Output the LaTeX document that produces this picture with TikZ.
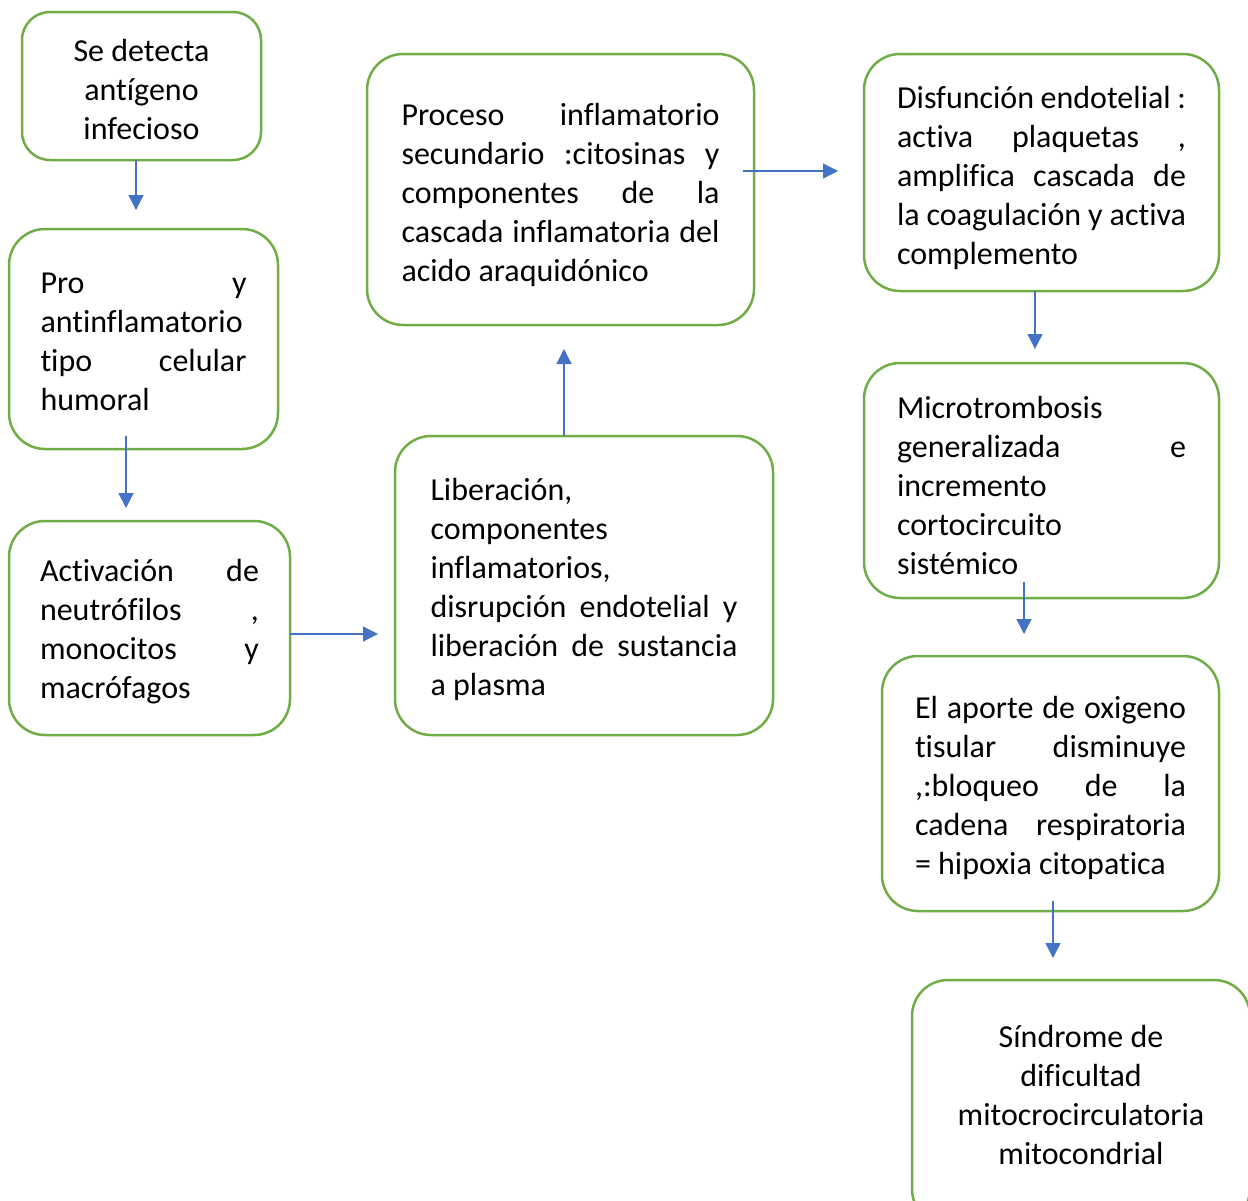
\documentclass[tikz,border=0pt]{standalone}
\usepackage{fontspec}
\setmainfont{Carlito}[Ligatures=NoCommon]
\usetikzlibrary{arrows.meta}
\definecolor{boxgreen}{HTML}{70AD47}
\definecolor{arrblue}{HTML}{4472C4}
\newcommand{\J}[2]{{\spaceskip=0pt\xspaceskip=0pt\makebox[#1][s]{#2}}}
\tikzset{
  flowbox/.style={draw=boxgreen, line width=2.5pt, rounded corners=36pt, inner sep=0pt},
  flowtext/.style={inner sep=0pt, font={\fontsize{32}{39}\selectfont}, align=flush left, text=black},
  flowarrow/.style={draw=arrblue, line width=1.3pt, -{Triangle[length=15pt,width=15pt]}}
}
\begin{document}
\begin{tikzpicture}[x=1pt,y=-1pt]
\clip (0,0) rectangle (1248,1200);
\fill[white] (0,0) rectangle (1248,1200);

% boxes
\node[flowbox, rounded corners=28pt, minimum width=239pt, minimum height=148pt] (b1) at (141.5,86) {};
\node[flowbox, minimum width=269pt, minimum height=220pt] (b2) at (143.5,339) {};
\node[flowbox, minimum width=281pt, minimum height=214pt] (b3) at (149.5,628) {};
\node[flowbox, minimum width=378pt, minimum height=299pt] (b4) at (584,585.5) {};
\node[flowbox, minimum width=387pt, minimum height=271pt] (b5) at (560.5,189.5) {};
\node[flowbox, minimum width=355pt, minimum height=237pt] (b6) at (1041.5,172.5) {};
\node[flowbox, minimum width=355pt, minimum height=235pt] (b7) at (1041.5,480.5) {};
\node[flowbox, minimum width=337pt, minimum height=255pt] (b8) at (1050.5,783.5) {};
\node[flowbox, minimum width=338pt, minimum height=245pt] (b9) at (1081,1102.5) {};

% texts
\node[flowtext, align=flush center, text width=200pt] (t1) at ([yshift=-4pt]b1.center)
  {Se detecta\\antígeno\\infecioso};
\node[flowtext, text width=206pt] (t2) at ([yshift=-3pt]b2.center)
  {\J{206pt}{Pro y}\\antinflamatorio\\\J{206pt}{tipo celular}\\humoral};
\node[flowtext, text width=219pt] (t3) at ([yshift=-4pt]b3.center)
  {\J{219pt}{Activación de}\\\J{219pt}{neutrófilos ,}\\\J{219pt}{monocitos y}\\macrófagos};
\node[flowtext, text width=307pt] (t4) at ([yshift=-4pt]b4.center)
  {Liberación,\\componentes\\inflamatorios,\\\J{307pt}{disrupción endotelial y}\\\J{307pt}{liberación de sustancia}\\a plasma};
\node[flowtext, text width=318pt] (t5) at ([yshift=-5pt]b5.center)
  {\J{318pt}{Proceso inflamatorio}\\\J{318pt}{secundario :citosinas y}\\\J{318pt}{componentes de la}\\\J{318pt}{cascada inflamatoria del}\\acido araquidónico};
\node[flowtext, text width=289pt] (t6) at ([yshift=-5pt]b6.center)
  {\J{289pt}{Disfunción endotelial :}\\\J{289pt}{activa plaquetas ,}\\\J{289pt}{amplifica cascada de}\\\J{289pt}{la coagulación y activa}\\complemento};
\node[flowtext, text width=289pt] (t7) at ([yshift=-5pt]b7.center)
  {Microtrombosis\\\J{289pt}{generalizada e}\\incremento\\cortocircuito\\sistémico};
\node[flowtext, text width=271pt] (t8) at ([yshift=-4pt]b8.center)
  {\J{271pt}{El aporte de oxigeno}\\\J{271pt}{tisular disminuye}\\\J{271pt}{,:bloqueo de la}\\\J{271pt}{cadena respiratoria}\\= hipoxia citopatica};
\node[flowtext, align=flush center, text width=280pt] (t9) at ([yshift=8pt]b9.center)
  {Síndrome de\\dificultad\\mitocrocirculatoria\\mitocondrial};

% connectors
\coordinate (s1) at (136,160);  \coordinate (e1) at (136,210);
\coordinate (s2) at (126,436);  \coordinate (e2) at (126,508);
\coordinate (s3) at (290,634);  \coordinate (e3) at (378,634);
\coordinate (s4) at (564,436);  \coordinate (e4) at (564,349);
\coordinate (s5) at (743,171);  \coordinate (e5) at (838,171);
\coordinate (s6) at (1035,291); \coordinate (e6) at (1035,349);
\coordinate (s7) at (1024,582); \coordinate (e7) at (1024,634);
\coordinate (s8) at (1053,901); \coordinate (e8) at (1053,958);

\draw[flowarrow] (s1) -- (e1);
\draw[flowarrow] (s2) -- (e2);
\draw[flowarrow] (s3) -- (e3);
\draw[flowarrow] (s4) -- (e4);
\draw[flowarrow] (s5) -- (e5);
\draw[flowarrow] (s6) -- (e6);
\draw[flowarrow] (s7) -- (e7);
\draw[flowarrow] (s8) -- (e8);
\end{tikzpicture}
\end{document}
